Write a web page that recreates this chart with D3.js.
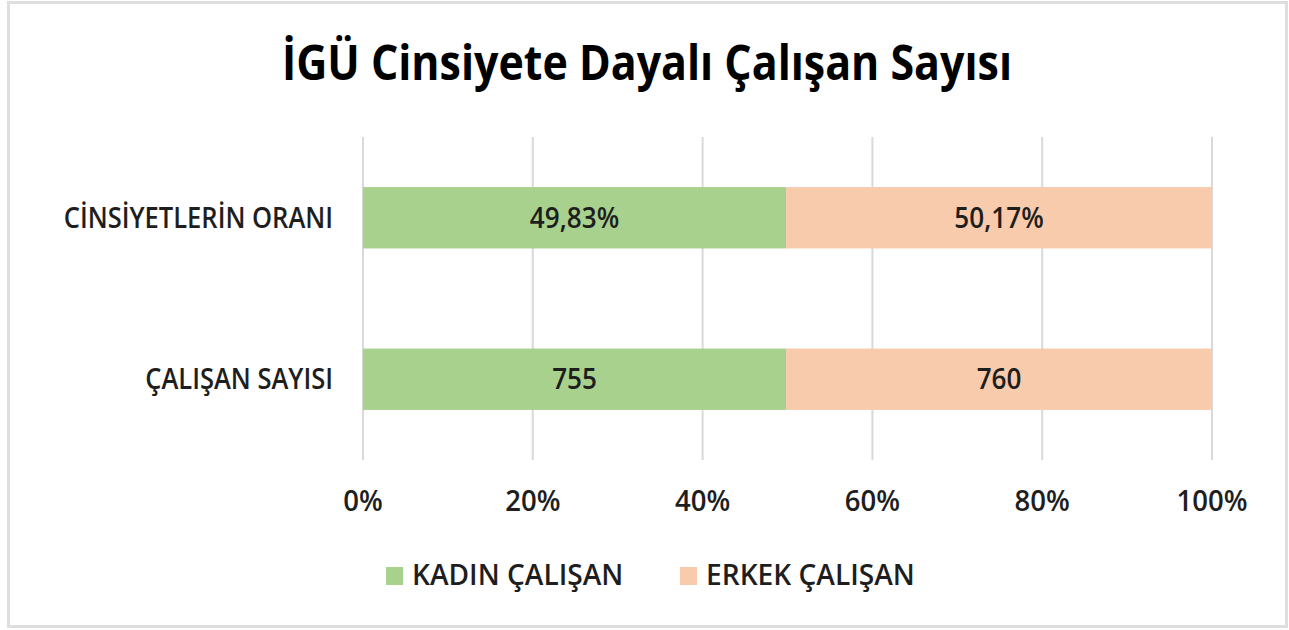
<!DOCTYPE html>
<html>
<head>
<meta charset="utf-8">
<script src="https://cdn.jsdelivr.net/npm/d3@7"></script>
<style>
  body { margin: 0; background: #fff; }
  text { font-family: "Open Sans", "Noto Sans", sans-serif; }
</style>
</head>
<body>
<script>
// data
var categories = ["CİNSİYETLERİN ORANI", "ÇALIŞAN SAYISI"];
var kadin = [49.83, 755];
var erkek = [50.17, 760];
var kadinLabels = ["49,83%", "755"];
var erkekLabels = ["50,17%", "760"];
var series = ["KADIN ÇALIŞAN", "ERKEK ÇALIŞAN"];
var ticks = [0, 0.2, 0.4, 0.6, 0.8, 1];

var w = 1289;
var h = 630;
var colors = ["#a9d18e", "#f8cbad"];
var txt = "#1e1e1e";

var svg = d3.select("body")
    .append("svg")
    .attr("width", w)
    .attr("height", h);

// outer frame
svg.append("rect")
    .attr("x", 8.5).attr("y", 2.5)
    .attr("width", 1278).attr("height", 624)
    .attr("fill", "#fff")
    .attr("stroke", "#dedede")
    .attr("stroke-width", 3);

// text helper: tall glyphs squeezed sideways, like the original
function label(sel, x, y, sx) {
    return sel.attr("transform", "translate(" + x + "," + y + ") scale(" + sx + ",1)");
}

svg.append("text")
    .attr("x", 647)
    .attr("y", 80)
    .attr("text-anchor", "middle")
    .attr("font-size", 48)
    .attr("font-weight", 700)
    .attr("fill", "#000")
    .attr("textLength", 730)
    .attr("lengthAdjust", "spacingAndGlyphs")
    .text("İGÜ Cinsiyete Dayalı Çalışan Sayısı");

var xScale = d3.scaleLinear()
    .domain([0, 1])
    .range([363, 1212]);

var yScale = d3.scaleBand()
    .domain(categories)
    .range([137, 460])
    .paddingInner(0.62)
    .paddingOuter(0.31);

// gridlines
svg.selectAll(".grid")
    .data(ticks)
    .enter()
    .append("line")
    .attr("x1", function(d) { return xScale(d); })
    .attr("x2", function(d) { return xScale(d); })
    .attr("y1", 137)
    .attr("y2", 460)
    .attr("stroke", "#d9d9d9")
    .attr("stroke-width", 2);

var rows = categories.map(function(c, i) {
    var tot = kadin[i] + erkek[i];
    return {
        cat: c,
        segs: [
            { x0: 0, x1: kadin[i] / tot, label: kadinLabels[i], color: colors[0], cat: c },
            { x0: kadin[i] / tot, x1: 1, label: erkekLabels[i], color: colors[1], cat: c }
        ]
    };
});

var rowG = svg.selectAll(".row")
    .data(rows)
    .enter()
    .append("g");

rowG.selectAll("rect")
    .data(function(d) { return d.segs; })
    .enter()
    .append("rect")
    .attr("x", function(d) { return xScale(d.x0); })
    .attr("width", function(d) { return xScale(d.x1) - xScale(d.x0); })
    .attr("y", function(d) { return yScale(d.cat); })
    .attr("height", yScale.bandwidth())
    .attr("fill", function(d) { return d.color; });

rowG.selectAll(".lbl")
    .data(function(d) { return d.segs; })
    .enter()
    .append("text")
    .each(function(d) {
        label(d3.select(this),
            (xScale(d.x0) + xScale(d.x1)) / 2,
            yScale(d.cat) + yScale.bandwidth() / 2 + 10, 0.9);
    })
    .attr("text-anchor", "middle")
    .attr("font-size", 29)
    .attr("font-weight", 600)
    .attr("fill", txt)
    .text(function(d) { return d.label; });

// category labels
svg.selectAll(".cat")
    .data(categories)
    .enter()
    .append("text")
    .each(function(d) {
        label(d3.select(this), 333, yScale(d) + yScale.bandwidth() / 2 + 10, 0.88);
    })
    .attr("text-anchor", "end")
    .attr("font-size", 29)
    .attr("font-weight", 600)
    .attr("fill", txt)
    .text(function(d) { return d; });

// x axis tick labels
svg.selectAll(".tick")
    .data(ticks)
    .enter()
    .append("text")
    .each(function(d) { label(d3.select(this), xScale(d), 511, 0.95); })
    .attr("text-anchor", "middle")
    .attr("font-size", 29)
    .attr("font-weight", 600)
    .attr("fill", txt)
    .text(function(d) { return d3.format(".0%")(d); });

// legend
var legendX = [386, 680];
var leg = svg.selectAll(".leg")
    .data(series)
    .enter()
    .append("g")
    .attr("transform", function(d, i) { return "translate(" + legendX[i] + ",567)"; });

leg.append("rect")
    .attr("width", 17).attr("height", 18)
    .attr("fill", function(d, i) { return colors[i]; });

leg.append("text")
    .each(function() { label(d3.select(this), 26, 18, 0.97); })
    .attr("font-size", 29)
    .attr("font-weight", 600)
    .attr("fill", txt)
    .text(function(d) { return d; });
</script>
</body>
</html>
